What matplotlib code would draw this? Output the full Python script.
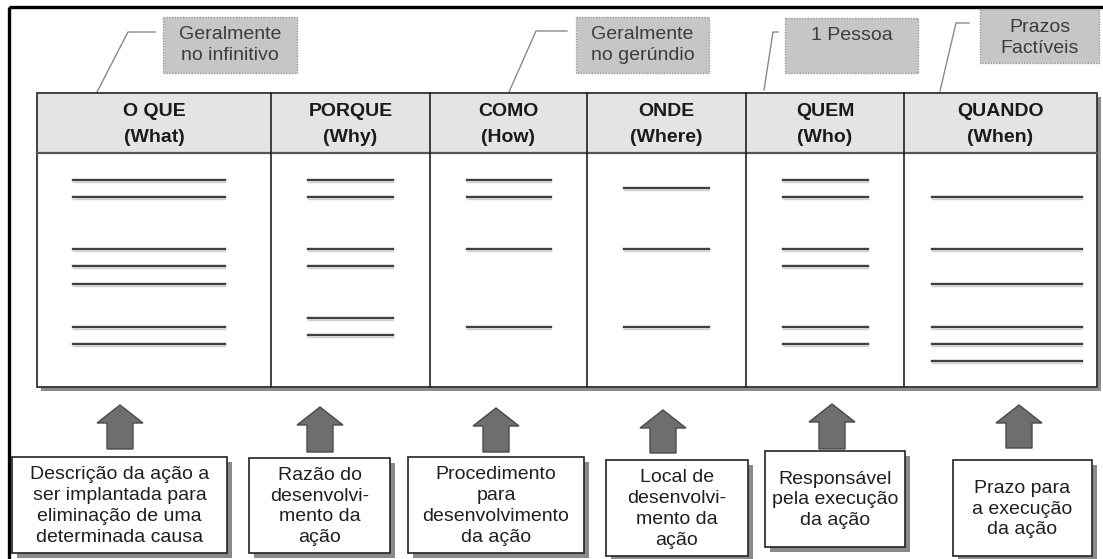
import matplotlib
matplotlib.use("Agg")
import matplotlib.pyplot as plt
from matplotlib.patches import Rectangle, Polygon

plt.rcParams['font.family'] = ['Liberation Sans', 'DejaVu Sans']

# ---------------- data (texts) ----------------
headers = ["O QUE", "PORQUE", "COMO", "ONDE", "QUEM", "QUANDO"]
headers_en = ["(What)", "(Why)", "(How)", "(Where)", "(Who)", "(When)"]
callouts = ["Geralmente\nno infinitivo", "Geralmente\nno gerúndio", "1 Pessoa", "Prazos\nFactíveis"]
descriptions = [
    "Descrição da ação a\nser implantada para\neliminação de uma\ndeterminada causa",
    "Razão do\ndesenvolvi-\nmento da\nação",
    "Procedimento\npara\ndesenvolvimento\nda ação",
    "Local de\ndesenvolvi-\nmento da\nação",
    "Responsável\npela execução\nda ação",
    "Prazo para\na execução\nda ação",
]

# ---------------- layout (pixel coordinates) ----------------
W, H = 1103, 559
col_edges = [37, 271, 430, 587, 746, 904, 1097]
table_top, header_bottom, table_bottom = 93, 153, 387
line_rows = [
    [180, 197, 249, 266, 284, 327, 344],
    [180, 197, 249, 266, 318, 335],
    [180, 197, 249, 327],
    [188, 249, 327],
    [180, 197, 249, 266, 327, 344],
    [197, 249, 284, 327, 344, 361],
]
line_spans = [(73, 225), (308, 393), (467, 551), (624, 709), (783, 868), (932, 1082)]

callout_boxes = [(163, 17, 297, 73), (576, 17, 709, 73), (785, 18, 918, 73), (980, 9, 1099, 63)]
callout_text_y = [45, 45, 36, 38]
leaders = [
    [(97, 92), (128, 32), (155, 32)],
    [(509, 92), (536, 31), (567, 31)],
    [(764, 90), (773, 32), (778, 32)],
    [(940, 91), (956, 23), (969, 23)],
]

arrow_x = [120, 320, 496, 663, 832, 1019]
arrow_tip = [405, 407, 408, 410, 404, 405]
arrow_bottom = [449, 452, 452, 453, 449, 448]

desc_boxes = [(12, 457, 227, 553), (249, 458, 390, 553), (408, 457, 584, 553),
              (606, 460, 748, 556), (765, 451, 905, 547), (953, 460, 1092, 556)]

fig = plt.figure(figsize=(W / 100, H / 100), dpi=100)
ax = fig.add_axes([0, 0, 1, 1])
ax.set_xlim(0, W)
ax.set_ylim(H, 0)
ax.axis('off')

# outer frame
ax.add_patch(Rectangle((9, 7), 1200, 700, fill=False, edgecolor='black', lw=2.4, zorder=1))

# table shadow
x0, x1 = col_edges[0], col_edges[-1]
ax.add_patch(Rectangle((x0 + 4, table_top + 4), x1 - x0, table_bottom - table_top,
                       facecolor='#8c8c8c', edgecolor='none', zorder=2))
# body
ax.add_patch(Rectangle((x0, header_bottom), x1 - x0, table_bottom - header_bottom,
                       facecolor='white', edgecolor='none', zorder=3))
# header
ax.add_patch(Rectangle((x0, table_top), x1 - x0, header_bottom - table_top,
                       facecolor='#e4e4e4', edgecolor='none', zorder=3))
# borders
ax.add_patch(Rectangle((x0, table_top), x1 - x0, table_bottom - table_top,
                       fill=False, edgecolor='#333333', lw=1.3, zorder=5))
ax.plot([x0, x1], [header_bottom, header_bottom], color='#555555', lw=1.6, zorder=5)
for xe in col_edges[1:-1]:
    ax.plot([xe, xe], [table_top, table_bottom], color='#222222', lw=1.2, zorder=5)

for i, (h, he) in enumerate(zip(headers, headers_en)):
    cx = (col_edges[i] + col_edges[i + 1]) / 2
    ax.text(cx, 112, h, ha='center', va='center', fontsize=14, fontweight='bold',
            color='#1a1a1a', zorder=6)
    ax.text(cx, 137, he, ha='center', va='center', fontsize=14, fontweight='bold',
            color='#1a1a1a', zorder=6)
    a, b = line_spans[i]
    for y in line_rows[i]:
        ax.plot([a, b], [y + 1.5, y + 1.5], color='#d0d0d0', lw=1.0, zorder=5)
        ax.plot([a, b], [y, y], color='#404040', lw=1.7, zorder=6)

# callouts
for (bx0, by0, bx1, by1), txt, ty, pts in zip(callout_boxes, callouts, callout_text_y, leaders):
    ax.add_patch(Rectangle((bx0, by0), bx1 - bx0, by1 - by0, facecolor='#c6c6c6',
                           edgecolor='#9a9a9a', lw=1.0, linestyle=(0, (1, 1)), zorder=4))
    ax.text((bx0 + bx1) / 2, ty, txt, ha='center', va='center', fontsize=14,
            color='#3c3c3c', linespacing=1.25, zorder=6)
    xs = [p[0] for p in pts]
    ys = [p[1] for p in pts]
    ax.plot(xs, ys, color='#8a8a8a', lw=1.0, zorder=4)

# arrows
for cx, tip, bot in zip(arrow_x, arrow_tip, arrow_bottom):
    hb = tip + 18
    poly = [(cx, tip), (cx + 23, hb), (cx + 13, hb), (cx + 13, bot),
            (cx - 13, bot), (cx - 13, hb), (cx - 23, hb)]
    ax.add_patch(Polygon(poly, closed=True, facecolor='#6e6e6e', edgecolor='#4a4a4a',
                         lw=1.0, zorder=4))

# description boxes
for (bx0, by0, bx1, by1), txt in zip(desc_boxes, descriptions):
    ax.add_patch(Rectangle((bx0 + 5, by0 + 5), bx1 - bx0, by1 - by0,
                           facecolor='#8a8a8a', edgecolor='none', zorder=3))
    ax.add_patch(Rectangle((bx0, by0), bx1 - bx0, by1 - by0, facecolor='white',
                           edgecolor='#222222', lw=1.2, zorder=4))
    ax.text((bx0 + bx1) / 2, (by0 + by1) / 2 + 1, txt, ha='center', va='center',
            fontsize=14, color='#1f1f1f', linespacing=1.3, zorder=6)

fig.savefig("out.png", dpi=100)
